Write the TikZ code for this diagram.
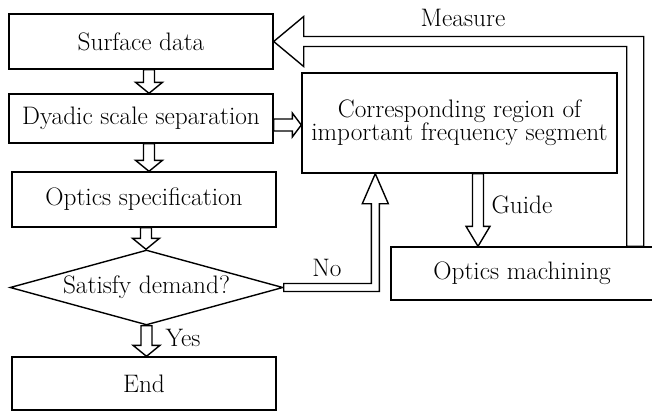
\documentclass[tikz,border=0pt]{standalone}
\usetikzlibrary{calc,shapes.geometric}

\tikzset{
  box/.style={draw, line width=1.4pt, minimum width=264pt, minimum height=55pt, inner sep=0pt},
  decision/.style={draw, diamond, line width=1.4pt, minimum width=273pt, minimum height=75pt, inner sep=0pt, shape aspect=3.6},
  hollow/.style={draw, line width=1.4pt, line join=miter, fill=white},
  lbl/.style={inner sep=0pt}
}

% hollow block arrow pointing down: [x offset]{from}{to}
\newcommand\hollowdown[3][0]{%
  \draw[hollow] let \p1=($#2+(#1,0)$), \p2=#3 in
    (\x1-5.5pt,\y1) -- (\x1-5.5pt,\y2+11pt) -- (\x1-13.5pt,\y2+11pt) -- (\x1,\y2)
    -- (\x1+13.5pt,\y2+11pt) -- (\x1+5.5pt,\y2+11pt) -- (\x1+5.5pt,\y1) -- cycle;}

\begin{document}
\begin{tikzpicture}[x=1pt, y=-1pt, font=\fontsize{25.3}{23}\selectfont]
  \useasboundingbox (0,0) rectangle (652,412);

  % left column
  \node[box] (sd) at (141,41.5) {Surface data};
  \node[box, minimum height=49pt] (dy) at (141,118.5) {Dyadic scale separation};
  \node[box] (os) at (144,199.5) {Optics specification};
  \node[decision] (dm) at (146.5,287.5) {Satisfy demand?};
  \node[box, minimum height=53pt] (en) at (144,383.5) {End};

  % right column
  \node[box, minimum width=315pt, minimum height=100pt, align=center] (cr) at (459.5,123)
    {Corresponding region of\\important frequency segment};
  \node[box, minimum width=262pt, minimum height=53pt] (om) at (522,273.5) {Optics machining};

  % downward flow
  \hollowdown[8]{(sd.south)}{(dy.north)}
  \hollowdown[8]{(dy.south)}{(os.north)}
  \hollowdown[2]{(os.south)}{(dm.north)}
  \hollowdown{(dm.south)}{(en.north)}

  % separation -> region
  \draw[hollow] let \p1=($(dy.east)+(0,6.5)$), \p2=(cr.west) in
    (\x1,\y1+6pt) -- (\x2-9pt,\y1+6pt) -- (\x2-9pt,\y1+12pt) -- (\x2,\y1)
    -- (\x2-9pt,\y1-12pt) -- (\x2-9pt,\y1-6pt) -- (\x1,\y1-6pt) -- cycle;

  % guide
  \draw[hollow] let \p1=($(cr.south)+(18.5,0)$), \p2=(om.north) in
    (\x1-5.5pt,\y1) -- (\x1-5.5pt,\y2+20pt) -- (\x1-12pt,\y2+20pt) -- (\x1,\y2)
    -- (\x1+12pt,\y2+20pt) -- (\x1+5.5pt,\y2+20pt) -- (\x1+5.5pt,\y1) -- cycle;

  % no
  \draw[hollow] let \p1=(dm.east), \p2=($(cr.south west)+(74,0)$) in
    (\x1,\y1+4pt) -- (\x2-4pt,\y1+4pt) -- (\x2-4pt,\y2-30pt) -- (\x2-13pt,\y2-30pt)
    -- (\x2,\y2) -- (\x2+13pt,\y2-30pt) -- (\x2+4pt,\y2-30pt) -- (\x2+4pt,\y1-4pt)
    -- (\x1,\y1-4pt) -- cycle;

  % measure
  \draw[hollow] let \p1=($(om.north east)+(-18.5,0)$), \p2=(sd.east) in
    (\x1+8.5pt,\y1) -- (\x1+8.5pt,\y2+5pt) -- (\x2+30pt,\y2+5pt) -- (\x2+30pt,\y2+25pt)
    -- (\x2,\y2) -- (\x2+30pt,\y2-25pt) -- (\x2+30pt,\y2-5pt) -- (\x1-8.5pt,\y2-5pt)
    -- (\x1-8.5pt,\y1) -- cycle;

  % labels
  \node[lbl] (lmeas) at (463,18) {Measure};
  \node[lbl] (lguide) at (522,205) {Guide};
  \node[lbl] (lno) at (327,268) {No};
  \node[lbl] (lyes) at (183,338) {Yes};
\end{tikzpicture}
\end{document}
